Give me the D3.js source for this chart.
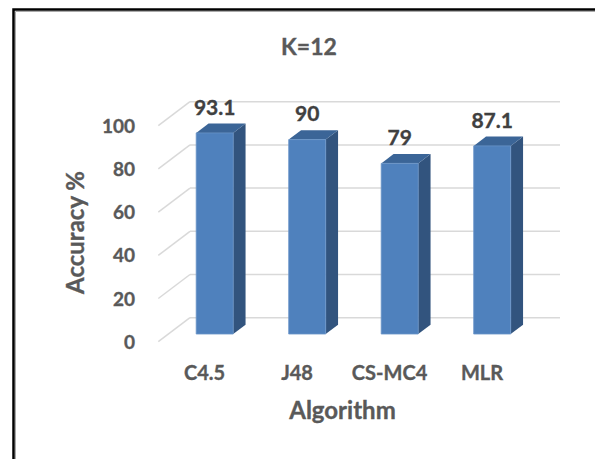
<!DOCTYPE html>
<html>
<head>
<meta charset="utf-8">
<script src="https://cdn.jsdelivr.net/npm/d3@7"></script>
<style>
  body { margin: 0; background: #fff; }
  svg text { font-family: Lato, "Open Sans", sans-serif; font-weight: bold; stroke-width: 0.35; }
</style>
</head>
<body>
<div id="chart"></div>
<script>
// 3D column chart, K=12

const categories = ['C4.5', 'J48', 'CS-MC4', 'MLR'];
const accuracy = [93.1, 90, 79, 87.1];
const yTicks = [0, 20, 40, 60, 80, 100];

const chartTitle = 'K=12';
const xTitle = 'Algorithm';
const yTitle = 'Accuracy %';

class Column3D {
    constructor(container, width, height) {
        this.width = width;
        this.height = height;

        this.svg = d3.select(container)
            .append('svg')
            .attr('width', width)
            .attr('height', height);

        // depth vector (front -> back) and where the bar sits in it
        this.depth = [31.7, -24];
        this.zFront = 0.32;
        this.zBack = 0.71;
    }

    // project a point on the front plane back by z (0 = front, 1 = back wall)
    p(x, y, z) {
        return [x + this.depth[0] * z, y + this.depth[1] * z];
    }

    render(cats, vals) {
        const svg = this.svg;

        // frame, only top and left edges are inside the picture
        svg.append('path')
            .attr('d', 'M13.5,459 V9.5 H595')
            .attr('fill', 'none')
            .attr('stroke', '#000')
            .attr('stroke-width', 2.5);
        svg.append('path')
            .attr('d', 'M15.5,459 V11.5 H595')
            .attr('fill', 'none')
            .attr('stroke', '#aaa')
            .attr('stroke-width', 1);

        this.x = d3.scaleBand(cats, [158.3, 528.3])
            .paddingInner(0.6)
            .paddingOuter(0.3);
        this.y = d3.scaleLinear([0, 100], [341.7, 125.7]);

        const x = this.x, y = this.y;
        const [x0, x1] = x.range();

        // walls: back gridlines and side diagonals
        const grid = svg.append('g')
            .attr('stroke', '#d9d9d9')
            .attr('stroke-width', 1.5)
            .attr('fill', 'none');

        grid.selectAll('line.back')
            .data(yTicks)
            .join('line')
            .attr('class', 'back')
            .attr('x1', d => this.p(x0, y(d), 1)[0])
            .attr('y1', d => this.p(x0, y(d), 1)[1])
            .attr('x2', d => this.p(x1, y(d), 1)[0])
            .attr('y2', d => this.p(x1, y(d), 1)[1]);

        grid.selectAll('line.side')
            .data(yTicks)
            .join('line')
            .attr('class', 'side')
            .attr('x1', x0)
            .attr('y1', d => y(d))
            .attr('x2', d => this.p(x0, y(d), 1)[0])
            .attr('y2', d => this.p(x0, y(d), 1)[1]);

        // y tick labels
        svg.append('g')
            .selectAll('text')
            .data(yTicks)
            .join('text')
            .attr('x', 135)
            .attr('y', d => y(d) + 7)
            .attr('text-anchor', 'end')
            .attr('fill', '#595959')
            .attr('stroke', '#595959')
            .attr('font-size', 19)
            .text(d => d);

        // bars
        const data = cats.map((k, i) => ({ k: k, v: vals[i] }));
        const bars = svg.append('g')
            .selectAll('g')
            .data(data)
            .join('g');

        const corners = d => {
            const l = x(d.k), r = x(d.k) + x.bandwidth();
            const t = y(d.v), b = y(0);
            return {
                flt: this.p(l, t, this.zFront), frt: this.p(r, t, this.zFront),
                frb: this.p(r, b, this.zFront), flb: this.p(l, b, this.zFront),
                blt: this.p(l, t, this.zBack), brt: this.p(r, t, this.zBack),
                brb: this.p(r, b, this.zBack)
            };
        };

        bars.append('polygon')
            .attr('points', d => {
                const c = corners(d);
                return [c.frt, c.brt, c.brb, c.frb].join(' ');
            })
            .attr('fill', '#32547e');

        bars.append('polygon')
            .attr('points', d => {
                const c = corners(d);
                return [c.flt, c.frt, c.brt, c.blt].join(' ');
            })
            .attr('fill', '#3b6597');

        bars.append('polygon')
            .attr('points', d => {
                const c = corners(d);
                return [c.flt, c.frt, c.frb, c.flb].join(' ');
            })
            .attr('fill', '#4f81bd')
            .attr('stroke', '#6a94c8')
            .attr('stroke-width', 0.8);

        // value labels
        bars.append('text')
            .attr('x', d => this.p(x(d.k) + x.bandwidth() / 2, 0, this.zFront)[0])
            .attr('y', d => corners(d).blt[1] - 9)
            .attr('text-anchor', 'middle')
            .attr('fill', '#404040')
            .attr('stroke', '#404040')
            .attr('font-size', 21)
            .text(d => d.v);

        // category labels
        svg.append('g')
            .selectAll('text')
            .data(cats)
            .join('text')
            .attr('x', d => x(d) + x.bandwidth() / 2)
            .attr('y', 380)
            .attr('text-anchor', 'middle')
            .attr('fill', '#595959')
            .attr('stroke', '#595959')
            .attr('font-size', 20)
            .text(d => d);

        // titles
        svg.append('text')
            .attr('x', 309)
            .attr('y', 55)
            .attr('text-anchor', 'middle')
            .attr('fill', '#595959')
            .attr('stroke', '#595959')
            .attr('font-size', 23)
            .text(chartTitle);

        svg.append('text')
            .attr('x', 342.5)
            .attr('y', 418.5)
            .attr('text-anchor', 'middle')
            .attr('fill', '#595959')
            .attr('stroke', '#595959')
            .attr('font-size', 24)
            .text(xTitle);

        svg.append('text')
            .attr('transform', 'translate(84,232.5) rotate(-90)')
            .attr('text-anchor', 'middle')
            .attr('fill', '#595959')
            .attr('stroke', '#595959')
            .attr('font-size', 24)
            .text(yTitle);
    }
}

const chart = new Column3D('#chart', 595, 459);
chart.render(categories, accuracy);
</script>
</body>
</html>
